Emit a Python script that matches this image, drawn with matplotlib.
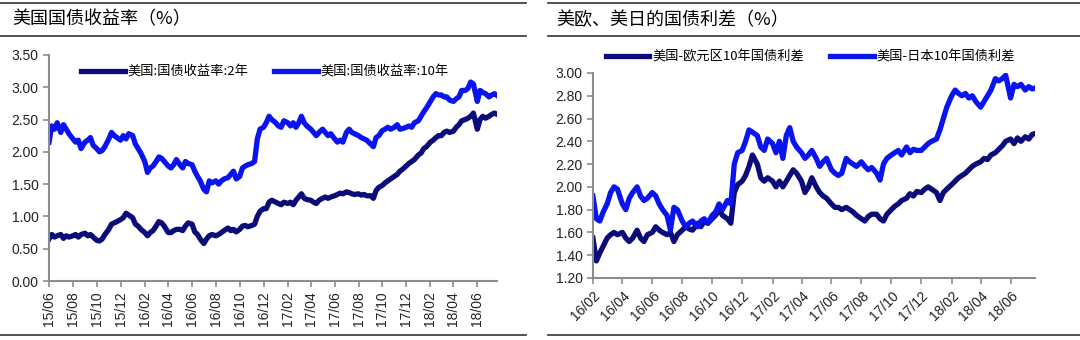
import pandas as pd
import matplotlib.pyplot as plt
import matplotlib.dates as mdates
from matplotlib.lines import Line2D

plt.rcParams['font.family'] = ['Liberation Sans', 'Noto Sans CJK SC', 'DejaVu Sans']

# 每月取四个点（1日、8日、15日、22日）
days = [1, 8, 15, 22]

# 左图：美国国债收益率 15/06 - 18/07
left_title = '美国国债收益率（%）'
left_months = pd.period_range('2015-06', '2018-07', freq='M')
left_ticks = pd.period_range('2015-06', '2018-06', freq='2M')
y10 = [
    2.15, 2.40, 2.35, 2.45,  2.30, 2.42, 2.35, 2.28,  2.20, 2.15, 2.18, 2.05,
    2.15, 2.18, 2.22, 2.10,  2.05, 2.00, 2.02, 2.08,  2.20, 2.30, 2.25, 2.22,
    2.18, 2.25, 2.20, 2.28,  2.25, 2.12, 2.05, 1.98,  1.85, 1.68, 1.75, 1.78,
    1.85, 1.92, 1.90, 1.85,  1.78, 1.75, 1.80, 1.88,  1.80, 1.75, 1.85, 1.82,
    1.80, 1.70, 1.62, 1.55,  1.42, 1.38, 1.55, 1.52,  1.55, 1.50, 1.55, 1.58,
    1.60, 1.65, 1.70, 1.58,  1.62, 1.75, 1.78, 1.80,  1.82, 1.85, 2.20, 2.35,
    2.38, 2.45, 2.55, 2.50,  2.45, 2.40, 2.38, 2.48,  2.45, 2.40, 2.45, 2.38,
    2.45, 2.55, 2.45, 2.40,  2.35, 2.30, 2.25, 2.30,  2.35, 2.30, 2.25, 2.28,
    2.20, 2.15, 2.18, 2.15,  2.30, 2.35, 2.30, 2.28,  2.25, 2.22, 2.20, 2.18,
    2.12, 2.08, 2.22, 2.25,  2.33, 2.35, 2.38, 2.35,  2.38, 2.42, 2.35, 2.36,
    2.38, 2.40, 2.38, 2.45,  2.48, 2.55, 2.62, 2.68,  2.78, 2.85, 2.90, 2.88,
    2.88, 2.85, 2.85, 2.80,  2.78, 2.82, 2.85, 2.95,  2.95, 2.98, 3.08, 3.05,
    2.78, 2.95, 2.92, 2.90,  2.85, 2.88, 2.90, 2.87,
]
y2 = [
    0.65, 0.72, 0.68, 0.70,  0.72, 0.66, 0.70, 0.68,  0.70, 0.72, 0.68, 0.72,
    0.74, 0.70, 0.72, 0.68,  0.63, 0.62, 0.65, 0.72,  0.80, 0.88, 0.90, 0.92,
    0.95, 0.98, 1.05, 1.02,  0.98, 0.88, 0.85, 0.80,  0.75, 0.70, 0.75, 0.78,
    0.85, 0.92, 0.90, 0.85,  0.75, 0.75, 0.78, 0.80,  0.80, 0.78, 0.85, 0.90,
    0.88, 0.76, 0.72, 0.65,  0.58, 0.65, 0.70, 0.72,  0.70, 0.72, 0.75, 0.78,
    0.82, 0.78, 0.80, 0.76,  0.80, 0.85, 0.86, 0.84,  0.86, 0.88, 1.00, 1.08,
    1.12, 1.12, 1.22, 1.25,  1.22, 1.20, 1.18, 1.22,  1.20, 1.22, 1.18, 1.25,
    1.30, 1.35, 1.28, 1.26,  1.25, 1.22, 1.20, 1.25,  1.28, 1.30, 1.28, 1.30,
    1.32, 1.34, 1.36, 1.35,  1.38, 1.37, 1.35, 1.34,  1.35, 1.33, 1.34, 1.32,
    1.32, 1.28, 1.40, 1.45,  1.48, 1.52, 1.55, 1.58,  1.62, 1.65, 1.70, 1.73,
    1.78, 1.82, 1.85, 1.88,  1.95, 1.98, 2.05, 2.08,  2.15, 2.18, 2.22, 2.25,
    2.25, 2.30, 2.32, 2.30,  2.32, 2.38, 2.42, 2.48,  2.50, 2.52, 2.55, 2.60,
    2.35, 2.50, 2.55, 2.52,  2.55, 2.58, 2.60, 2.58,
]
left_labels = ['美国:国债收益率:2年', '美国:国债收益率:10年']

# 右图：美欧、美日国债利差 16/02 - 18/07
right_title = '美欧、美日的国债利差（%）'
right_months = pd.period_range('2016-02', '2018-07', freq='M')
right_ticks = pd.period_range('2016-02', '2018-06', freq='2M')
eu = [
    1.55, 1.35, 1.42, 1.48,  1.55, 1.58, 1.60, 1.58,  1.60, 1.55, 1.52, 1.55,
    1.62, 1.55, 1.52, 1.58,  1.60, 1.65, 1.62, 1.60,  1.58, 1.60, 1.52, 1.58,
    1.62, 1.65, 1.63, 1.62,  1.68, 1.65, 1.70, 1.68,  1.72, 1.75, 1.80, 1.75,
    1.72, 1.68, 1.95, 2.02,  2.05, 2.10, 2.18, 2.28,  2.20, 2.08, 2.05, 2.08,
    2.05, 2.00, 2.05, 2.00,  2.05, 2.10, 2.15, 2.12,  2.05, 1.95, 2.00, 2.08,
    2.00, 1.95, 1.92, 1.90,  1.85, 1.82, 1.82, 1.80,  1.82, 1.80, 1.78, 1.75,
    1.72, 1.70, 1.74, 1.76,  1.76, 1.72, 1.70, 1.76,  1.80, 1.83, 1.85, 1.88,
    1.90, 1.94, 1.92, 1.96,  1.95, 1.98, 2.00, 1.98,  1.95, 1.88, 1.95, 1.98,
    2.02, 2.05, 2.08, 2.10,  2.12, 2.15, 2.18, 2.20,  2.22, 2.25, 2.24, 2.28,
    2.30, 2.33, 2.36, 2.40,  2.42, 2.38, 2.43, 2.40,  2.44, 2.42, 2.46, 2.47,
]
jp = [
    1.92, 1.72, 1.70, 1.78,  1.85, 1.95, 2.00, 1.98,  1.85, 1.80, 1.90, 1.95,
    2.00, 1.92, 1.88, 1.90,  1.95, 1.92, 1.85, 1.80,  1.75, 1.62, 1.82, 1.80,
    1.70, 1.65, 1.68, 1.70,  1.65, 1.70, 1.72, 1.68,  1.75, 1.78, 1.85, 1.80,
    1.88, 1.85, 2.20, 2.30,  2.32, 2.40, 2.50, 2.48,  2.45, 2.35, 2.32, 2.42,
    2.38, 2.30, 2.40, 2.25,  2.45, 2.52, 2.40, 2.35,  2.30, 2.25, 2.28, 2.32,
    2.25, 2.18, 2.22, 2.25,  2.15, 2.12, 2.10, 2.12,  2.25, 2.22, 2.20, 2.18,
    2.22, 2.18, 2.15, 2.17,  2.12, 2.06, 2.20, 2.25,  2.28, 2.30, 2.32, 2.28,
    2.35, 2.30, 2.33, 2.32,  2.32, 2.35, 2.38, 2.40,  2.42, 2.50, 2.60, 2.70,
    2.80, 2.85, 2.82, 2.80,  2.82, 2.78, 2.80, 2.75,  2.70, 2.75, 2.80, 2.85,
    2.95, 2.93, 2.95, 2.98,  2.78, 2.90, 2.88, 2.90,  2.85, 2.88, 2.86, 2.87,
]
right_labels = ['美国-欧元区10年国债利差', '美国-日本10年国债利差']

navy = '#0b0b7a'
blue = '#0a14ee'
grey = '#8c8c8c'
cjk = ['Noto Sans CJK SC', 'DejaVu Sans']


def make_dates(months):
    return [pd.Timestamp(m.year, m.month, d) for m in months for d in days]


def style_axes(ax):
    for s in ['top', 'right']:
        ax.spines[s].set_visible(False)
    for s in ['left', 'bottom']:
        ax.spines[s].set_color(grey)
        ax.spines[s].set_linewidth(1.5)
    ax.tick_params(colors=grey, labelcolor='#222222', labelsize=10, width=1.2, length=4)


fig = plt.figure(figsize=(10.8, 3.4), dpi=100)

# 标题栏横线
for x0, x1 in [(0.0, 0.487), (0.507, 1.0)]:
    fig.add_artist(Line2D([x0, x1], [0.992, 0.992], color='#333333', lw=1.2))
    fig.add_artist(Line2D([x0, x1], [0.893, 0.893], color='#333333', lw=1.2))
    fig.add_artist(Line2D([x0, x1], [0.015, 0.015], color='#333333', lw=1.2))
fig.text(0.011, 0.942, left_title, family=cjk, fontsize=13, va='center')
fig.text(0.515, 0.942, right_title, family=cjk, fontsize=13, va='center')

# 左图
ax1 = fig.add_axes([0.0454, 0.1735, 0.415, 0.665])
d1 = make_dates(left_months)
ax1.plot(d1, y2, color=navy, lw=3.8, label=left_labels[0])
ax1.plot(d1, y10, color=blue, lw=3.8, label=left_labels[1])
ax1.set_xlim(d1[0], pd.Timestamp(2018, 7, 22))
ax1.set_ylim(0, 3.5)
ax1.set_yticks([0.5 * i for i in range(8)])
ax1.yaxis.set_major_formatter(plt.FormatStrFormatter('%.2f'))
ax1.set_xticks([pd.Timestamp(p.year, p.month, 1) for p in left_ticks])
ax1.xaxis.set_major_formatter(mdates.DateFormatter('%y/%m'))
plt.setp(ax1.get_xticklabels(), rotation=90)
style_axes(ax1)
leg1 = ax1.legend(loc='center left', bbox_to_anchor=(0.064, 0.788), bbox_transform=fig.transFigure,
                  ncol=2, frameon=False, handlelength=3.3, handletextpad=0.2, columnspacing=2.0,
                  prop={'family': cjk, 'size': 9.5})

# 右图
ax2 = fig.add_axes([0.549, 0.1824, 0.409, 0.603])
d2 = make_dates(right_months)
ax2.plot(d2, eu, color=navy, lw=3.8, label=right_labels[0])
ax2.plot(d2, jp, color=blue, lw=3.8, label=right_labels[1])
ax2.set_xlim(d2[0], pd.Timestamp(2018, 7, 20))
ax2.set_ylim(1.2, 3.0)
ax2.set_yticks([1.2 + 0.2 * i for i in range(10)])
ax2.yaxis.set_major_formatter(plt.FormatStrFormatter('%.2f'))
ax2.set_xticks([pd.Timestamp(p.year, p.month, 1) for p in right_ticks])
ax2.xaxis.set_major_formatter(mdates.DateFormatter('%y/%m'))
plt.setp(ax2.get_xticklabels(), rotation=45, ha='right', rotation_mode='anchor')
style_axes(ax2)
leg2 = ax2.legend(loc='center left', bbox_to_anchor=(0.55, 0.832), bbox_transform=fig.transFigure,
                  ncol=2, frameon=False, handlelength=3.3, handletextpad=0.2, columnspacing=2.0,
                  prop={'family': cjk, 'size': 9.5})

fig.savefig('out.png', dpi=100)
